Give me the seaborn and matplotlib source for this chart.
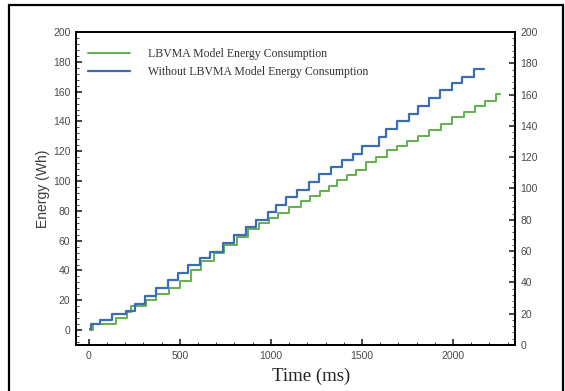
import matplotlib
matplotlib.use("Agg")
import matplotlib.pyplot as plt
from matplotlib.ticker import MultipleLocator
from matplotlib.patches import Rectangle
import seaborn as sns

# step start times (ms) and energy levels (Wh)
lbvma_cas = [5, 24, 150, 212, 233, 316, 370, 443, 500, 560, 615, 690, 745, 815, 875,
             935, 991, 1037, 1101, 1165, 1215, 1270, 1320, 1365, 1415, 1465, 1521,
             1576, 1639, 1694, 1749, 1808, 1867, 1932, 1995, 2060, 2120, 2175, 2233, 2260]
lbvma_energie = [0, 4, 8, 12, 16, 20.5, 24.5, 28.5, 33, 40, 46.5, 52, 57, 62.5, 67.5,
                 72, 75, 78.5, 82.5, 86.5, 90, 93.5, 97, 100.5, 104, 107.5, 112.5,
                 116, 120.5, 123.5, 127, 130.5, 134.5, 138.5, 143, 146.5, 150.5, 154, 158.5, 158.5]

bez_cas = [5, 12, 60, 125, 203, 252, 307, 370, 433, 488, 543, 608, 663, 735, 800, 863,
           918, 982, 1030, 1085, 1145, 1210, 1265, 1329, 1393, 1448, 1502, 1594, 1630,
           1694, 1758, 1807, 1867, 1931, 1995, 2050, 2114, 2169]
bez_energie = [1, 4, 7, 10.5, 13, 17.5, 23, 28, 33.5, 38.5, 43.5, 48.5, 52.5, 58.5, 64, 69,
               74, 79, 84, 89, 94, 99.5, 104.5, 109.5, 114, 118, 123.5, 129.5, 135,
               140, 145, 150.5, 156, 161, 165.5, 170, 175.5, 175.5]

popisky = ["LBVMA Model Energy Consumption", "Without LBVMA Model Energy Consumption"]
barvy = ["#62b04f", "#3b6db3"]

sns.set_style("ticks")
plt.rcParams['font.family'] = ['Liberation Sans', 'DejaVu Sans']

fig = plt.figure(figsize=(5.65, 3.91), dpi=100)
ax = fig.add_axes([76 / 565, 46 / 391, 439 / 565, 313 / 391])

sns.lineplot(x=lbvma_cas, y=lbvma_energie, ax=ax, color=barvy[0], linewidth=1.4,
             drawstyle='steps-post', label=popisky[0])
sns.lineplot(x=bez_cas, y=bez_energie, ax=ax, color=barvy[1], linewidth=1.6,
             drawstyle='steps-post', label=popisky[1])

ax.set_xlim(-70, 2340)
ax.set_ylim(-10, 200)
ax.xaxis.set_major_locator(MultipleLocator(500))
ax.xaxis.set_minor_locator(MultipleLocator(100))
ax.yaxis.set_major_locator(MultipleLocator(20))
ax.yaxis.set_minor_locator(MultipleLocator(4))
ax.tick_params(which='major', direction='in', length=4, width=1.2, labelsize=7.5,
               labelcolor='#4a4a4a', pad=4)
ax.tick_params(which='minor', direction='in', length=2, width=0.6)
ax.tick_params(axis='y', which='both', left=True, right=False)
for s in ax.spines.values():
    s.set_color('black')
    s.set_linewidth(1.3)
    s.set_visible(True)

ax.set_xlabel("")
ax.set_ylabel("Energy (Wh)", fontsize=10, color='#3a3a3a', labelpad=2)

ax2 = ax.twinx()
ax2.set_ylim(0, 200)
ax2.yaxis.set_major_locator(MultipleLocator(20))
ax2.yaxis.set_minor_locator(MultipleLocator(4))
ax2.tick_params(which='major', direction='in', length=4, width=1.2, labelsize=7.5,
                labelcolor='#4a4a4a', pad=4)
ax2.tick_params(which='minor', direction='in', length=2, width=0.6)
for s in ax2.spines.values():
    s.set_color('black')
    s.set_linewidth(1.3)

leg = ax.legend(loc='upper left', bbox_to_anchor=(0.003, 0.983), frameon=False,
                handlelength=3.6, handletextpad=1.5, labelspacing=0.55,
                prop={'family': 'Liberation Serif', 'size': 8.5})
for t in leg.get_texts():
    t.set_color('#333333')

fig.text(311 / 565, 1 - 376 / 391, "Time (ms)", ha='center', va='center',
         fontsize=13.5, family='Liberation Serif', color='#222222')

fig.patches.append(Rectangle((9 / 565, -0.02), 554 / 565, 1 - 5 / 391 + 0.02,
                             transform=fig.transFigure, fill=False,
                             edgecolor='black', linewidth=1.6))

fig.savefig("out.png", dpi=100)
plt.close(fig)
